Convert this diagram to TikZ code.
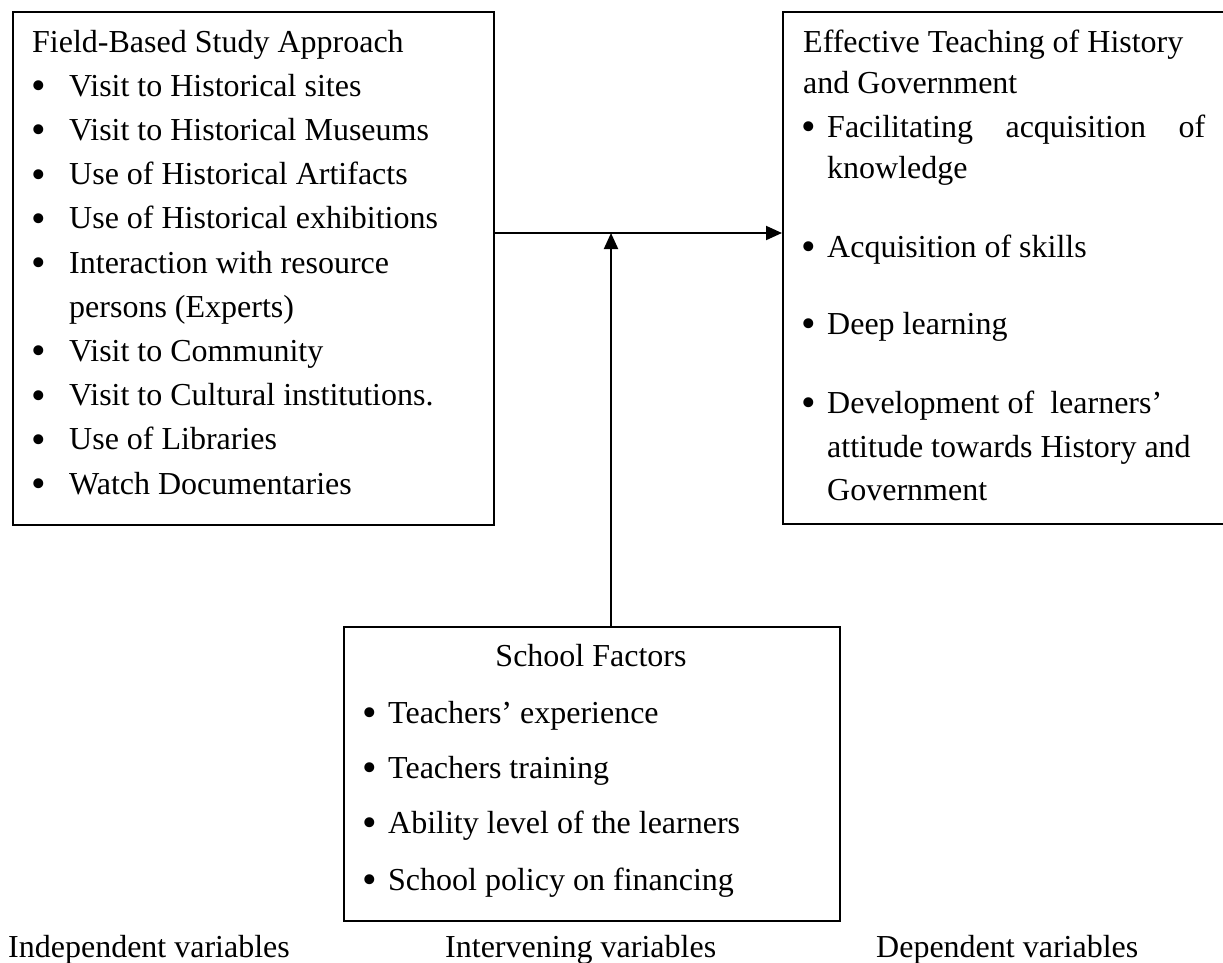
\documentclass[tikz,border=0pt]{standalone}
\usepackage{fontspec}
\setmainfont{Liberation Serif}
\usetikzlibrary{arrows.meta}
\newcommand{\bigbul}{\raisebox{-3.5pt}{\scalebox{1.3}{•}}}
\tikzset{
  every node/.style={font=\fontsize{32}{40}\selectfont, inner sep=0pt},
  boxnode/.style={draw, line width=1.6pt, anchor=north west},
  txt/.style={anchor=base west},
  bul/.style={anchor=base},
  arr/.style={line width=2pt, -{Triangle[length=16pt,width=14pt]}}
}
\begin{document}
\begin{tikzpicture}[x=1pt,y=-1pt]
\useasboundingbox (0,0) rectangle (1223,962);
% boxes
\node[boxnode, minimum width=481pt, minimum height=513pt] (L) at (12,11) {};
\node[boxnode, minimum width=470pt, minimum height=512pt] (R) at (782,11) {};
\node[boxnode, minimum width=496pt, minimum height=294pt] (S) at (343,626) {};
\coordinate (j) at (611,233);
% connectors
\draw[arr] (L.east |- j) -- (R.west |- j);
\draw[arr] (S.north -| j) -- (j);
% left box text
\node[txt] (lt) at (32,52) {Field-Based Study Approach};
\foreach \y/\t [count=\i] in {96.2/Visit to Historical sites,
  140.4/Visit to Historical Museums,
  184.6/Use of Historical Artifacts,
  228.8/Use of Historical exhibitions,
  273/Interaction with resource,
  361.4/Visit to Community,
  405.6/Visit to Cultural institutions.,
  449.8/Use of Libraries,
  494/Watch Documentaries}{
  \node[bul] (lb\i) at (39,\y) {\bigbul};
  \node[txt] (lx\i) at (69,\y) {\t};
}
\node[txt] (lx0) at (69,317.2) {persons (Experts)};
% right box text
\node[txt] (rt1) at (803,52) {Effective Teaching of History};
\node[txt] (rt2) at (803,93) {and Government};
\node[bul] (rb1) at (809,137) {\bigbul};
\node[txt] (rx1) at (827,137) {\makebox[378pt][s]{Facilitating acquisition of}};
\node[txt] (rx1b) at (827,178) {knowledge};
\node[bul] (rb2) at (809,257) {\bigbul};
\node[txt] (rx2) at (827,257) {Acquisition of skills};
\node[bul] (rb3) at (809,334) {\bigbul};
\node[txt] (rx3) at (827,334) {Deep learning};
\node[bul] (rb4) at (809,413) {\bigbul};
\node[txt] (rx4) at (827,413) {Development of~ learners’};
\node[txt] (rx4b) at (827,457) {attitude towards History and};
\node[txt] (rx4c) at (827,500) {Government};
% school box text
\node[anchor=base] (st) at (591,666) {School Factors};
\foreach \y/\t [count=\i] in {723/Teachers’ experience,
  778/Teachers training,
  833/Ability level of the learners,
  890/School policy on financing}{
  \node[bul] (sb\i) at (370,\y) {\bigbul};
  \node[txt] (sx\i) at (388,\y) {\t};
}
% bottom labels
\node[txt] (ind) at (8,957) {Independent variables};
\node[txt] (int) at (445,957) {Intervening variables};
\node[txt] (dep) at (876,957) {Dependent variables};
\end{tikzpicture}
\end{document}
